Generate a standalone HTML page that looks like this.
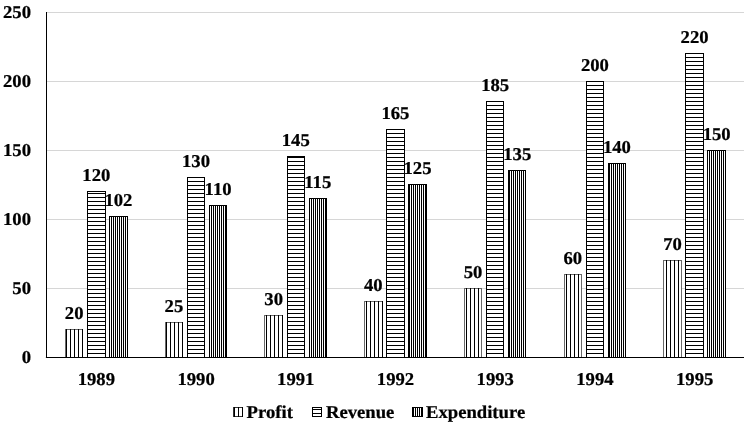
<!DOCTYPE html>
<html><head><meta charset="utf-8"><title>Chart</title>
<style>
html,body{margin:0;padding:0;background:#fff;}
svg{display:block}
text{font-family:"Liberation Serif","Times New Roman",serif;font-weight:bold;fill:#000;font-size:18.67px;stroke:#000;stroke-width:0.25px;text-rendering:geometricPrecision}
</style></head><body>
<svg width="746" height="426" viewBox="0 0 746 426">
<defs>
<pattern id="pv" patternUnits="userSpaceOnUse" x="0" y="0" width="4" height="8"><rect x="2" y="0" width="1" height="8" fill="#000"/></pattern>
<pattern id="ph" patternUnits="userSpaceOnUse" x="0" y="0" width="8" height="4"><rect x="0" y="1" width="8" height="1" fill="#000"/></pattern>
<pattern id="pn" patternUnits="userSpaceOnUse" x="0" y="0" width="2" height="8"><rect x="1" y="0" width="1" height="8" fill="#000"/></pattern>
</defs>
<rect width="746" height="426" fill="#fff"/>

<line x1="46.5" y1="288.50" x2="744.0" y2="288.50" stroke="#d6d6d6" stroke-width="1"/>
<line x1="46.5" y1="219.50" x2="744.0" y2="219.50" stroke="#d6d6d6" stroke-width="1"/>
<line x1="46.5" y1="150.50" x2="744.0" y2="150.50" stroke="#d6d6d6" stroke-width="1"/>
<line x1="46.5" y1="81.50" x2="744.0" y2="81.50" stroke="#d6d6d6" stroke-width="1"/>
<line x1="46.5" y1="12.50" x2="744.0" y2="12.50" stroke="#d6d6d6" stroke-width="1"/>
<rect x="65.5" y="329.5" width="17.0" height="28.0" fill="#fff" stroke="#6a6a6a" stroke-width="1.0"/>
<rect x="65.0" y="329.0" width="18.0" height="28.5" fill="url(#pv)"/>
<text transform="translate(74.20,318.80) scale(1,0.97)" text-anchor="middle">20</text>
<rect x="87.5" y="191.5" width="18.0" height="166.0" fill="#fff" stroke="#000" stroke-width="1.0"/>
<rect x="87.0" y="191.0" width="19.0" height="166.5" fill="url(#ph)"/>
<text transform="translate(96.31,180.80) scale(1,0.97)" text-anchor="middle">120</text>
<rect x="109.5" y="216.5" width="18.0" height="141.0" fill="#fff" stroke="#000" stroke-width="1.0"/>
<rect x="109.0" y="216.0" width="19.0" height="141.5" fill="url(#pn)"/>
<text transform="translate(118.38,205.80) scale(1,0.97)" text-anchor="middle">102</text>
<text transform="translate(96.36,385.10) scale(1,0.97)" text-anchor="middle">1989</text>
<rect x="165.5" y="322.5" width="17.0" height="35.0" fill="#fff" stroke="#6a6a6a" stroke-width="1.0"/>
<rect x="165.0" y="322.0" width="18.0" height="35.5" fill="url(#pv)"/>
<text transform="translate(173.91,311.80) scale(1,0.97)" text-anchor="middle">25</text>
<rect x="187.5" y="177.5" width="17.0" height="180.0" fill="#fff" stroke="#000" stroke-width="1.0"/>
<rect x="187.0" y="177.0" width="18.0" height="180.5" fill="url(#ph)"/>
<text transform="translate(196.02,166.80) scale(1,0.97)" text-anchor="middle">130</text>
<rect x="209.5" y="205.5" width="17.0" height="152.0" fill="#fff" stroke="#000" stroke-width="1.0"/>
<rect x="209.0" y="205.0" width="18.0" height="152.5" fill="url(#pn)"/>
<text transform="translate(218.09,194.80) scale(1,0.97)" text-anchor="middle">110</text>
<text transform="translate(196.07,385.10) scale(1,0.97)" text-anchor="middle">1990</text>
<rect x="264.5" y="315.5" width="18.0" height="42.0" fill="#fff" stroke="#6a6a6a" stroke-width="1.0"/>
<rect x="264.0" y="315.0" width="19.0" height="42.5" fill="url(#pv)"/>
<text transform="translate(273.63,304.80) scale(1,0.97)" text-anchor="middle">30</text>
<rect x="287.5" y="156.5" width="17.0" height="201.0" fill="#fff" stroke="#000" stroke-width="1.0"/>
<rect x="287.0" y="156.0" width="18.0" height="201.5" fill="url(#ph)"/>
<text transform="translate(295.74,145.80) scale(1,0.97)" text-anchor="middle">145</text>
<rect x="309.5" y="198.5" width="17.0" height="159.0" fill="#fff" stroke="#000" stroke-width="1.0"/>
<rect x="309.0" y="198.0" width="18.0" height="159.5" fill="url(#pn)"/>
<text transform="translate(317.80,187.80) scale(1,0.97)" text-anchor="middle">115</text>
<text transform="translate(295.78,385.10) scale(1,0.97)" text-anchor="middle">1991</text>
<rect x="364.5" y="301.5" width="18.0" height="56.0" fill="#fff" stroke="#6a6a6a" stroke-width="1.0"/>
<rect x="364.0" y="301.0" width="19.0" height="56.5" fill="url(#pv)"/>
<text transform="translate(373.34,290.80) scale(1,0.97)" text-anchor="middle">40</text>
<rect x="386.5" y="129.5" width="18.0" height="228.0" fill="#fff" stroke="#000" stroke-width="1.0"/>
<rect x="386.0" y="129.0" width="19.0" height="228.5" fill="url(#ph)"/>
<text transform="translate(395.45,118.80) scale(1,0.97)" text-anchor="middle">165</text>
<rect x="408.5" y="184.5" width="18.0" height="173.0" fill="#fff" stroke="#000" stroke-width="1.0"/>
<rect x="408.0" y="184.0" width="19.0" height="173.5" fill="url(#pn)"/>
<text transform="translate(417.52,173.80) scale(1,0.97)" text-anchor="middle">125</text>
<text transform="translate(395.50,385.10) scale(1,0.97)" text-anchor="middle">1992</text>
<rect x="464.5" y="288.5" width="17.0" height="69.0" fill="#fff" stroke="#6a6a6a" stroke-width="1.0"/>
<rect x="464.0" y="288.0" width="18.0" height="69.5" fill="url(#pv)"/>
<text transform="translate(473.06,277.80) scale(1,0.97)" text-anchor="middle">50</text>
<rect x="486.5" y="101.5" width="17.0" height="256.0" fill="#fff" stroke="#000" stroke-width="1.0"/>
<rect x="486.0" y="101.0" width="18.0" height="256.5" fill="url(#ph)"/>
<text transform="translate(495.17,90.80) scale(1,0.97)" text-anchor="middle">185</text>
<rect x="508.5" y="170.5" width="17.0" height="187.0" fill="#fff" stroke="#000" stroke-width="1.0"/>
<rect x="508.0" y="170.0" width="18.0" height="187.5" fill="url(#pn)"/>
<text transform="translate(517.23,159.80) scale(1,0.97)" text-anchor="middle">135</text>
<text transform="translate(495.21,385.10) scale(1,0.97)" text-anchor="middle">1993</text>
<rect x="564.5" y="274.5" width="17.0" height="83.0" fill="#fff" stroke="#6a6a6a" stroke-width="1.0"/>
<rect x="564.0" y="274.0" width="18.0" height="83.5" fill="url(#pv)"/>
<text transform="translate(572.77,263.80) scale(1,0.97)" text-anchor="middle">60</text>
<rect x="586.5" y="81.5" width="17.0" height="276.0" fill="#fff" stroke="#000" stroke-width="1.0"/>
<rect x="586.0" y="81.0" width="18.0" height="276.5" fill="url(#ph)"/>
<text transform="translate(594.88,70.80) scale(1,0.97)" text-anchor="middle">200</text>
<rect x="608.5" y="163.5" width="17.0" height="194.0" fill="#fff" stroke="#000" stroke-width="1.0"/>
<rect x="608.0" y="163.0" width="18.0" height="194.5" fill="url(#pn)"/>
<text transform="translate(616.94,152.80) scale(1,0.97)" text-anchor="middle">140</text>
<text transform="translate(594.93,385.10) scale(1,0.97)" text-anchor="middle">1994</text>
<rect x="663.5" y="260.5" width="18.0" height="97.0" fill="#fff" stroke="#6a6a6a" stroke-width="1.0"/>
<rect x="663.0" y="260.0" width="19.0" height="97.5" fill="url(#pv)"/>
<text transform="translate(672.48,249.80) scale(1,0.97)" text-anchor="middle">70</text>
<rect x="685.5" y="53.5" width="18.0" height="304.0" fill="#fff" stroke="#000" stroke-width="1.0"/>
<rect x="685.0" y="53.0" width="19.0" height="304.5" fill="url(#ph)"/>
<text transform="translate(694.59,42.80) scale(1,0.97)" text-anchor="middle">220</text>
<rect x="707.5" y="150.5" width="18.0" height="207.0" fill="#fff" stroke="#000" stroke-width="1.0"/>
<rect x="707.0" y="150.0" width="19.0" height="207.5" fill="url(#pn)"/>
<text transform="translate(716.66,139.80) scale(1,0.97)" text-anchor="middle">150</text>
<text transform="translate(694.64,385.10) scale(1,0.97)" text-anchor="middle">1995</text>
<line x1="46.5" y1="12" x2="46.5" y2="357.5" stroke="#000" stroke-width="1"/>
<line x1="45.9" y1="357.5" x2="744.0" y2="357.5" stroke="#000" stroke-width="1"/>
<text transform="translate(31.00,363.00) scale(1,0.97)" text-anchor="end">0</text>
<text transform="translate(31.00,294.00) scale(1,0.97)" text-anchor="end">50</text>
<text transform="translate(31.00,225.00) scale(1,0.97)" text-anchor="end">100</text>
<text transform="translate(31.00,156.00) scale(1,0.97)" text-anchor="end">150</text>
<text transform="translate(31.00,87.00) scale(1,0.97)" text-anchor="end">200</text>
<text transform="translate(31.00,18.00) scale(1,0.97)" text-anchor="end">250</text>
<rect x="233.5" y="407.5" width="9" height="9" fill="#fff" stroke="#333" stroke-width="1"/><rect x="233" y="407" width="10" height="10" fill="url(#pv)"/>
<text transform="translate(246.60,418.00) scale(1,0.97)">Profit</text>
<rect x="312.5" y="407.5" width="9" height="9" fill="#fff" stroke="#000" stroke-width="1"/><rect x="312" y="407" width="10" height="10" fill="url(#ph)"/>
<text transform="translate(326.00,418.00) scale(1,0.97)">Revenue</text>
<rect x="412.5" y="407.5" width="10" height="9" fill="#fff" stroke="#000" stroke-width="1"/><rect x="412" y="407" width="11" height="10" fill="url(#pn)"/>
<text transform="translate(426.00,418.00) scale(1,0.97)">Expenditure</text>
</svg></body></html>
